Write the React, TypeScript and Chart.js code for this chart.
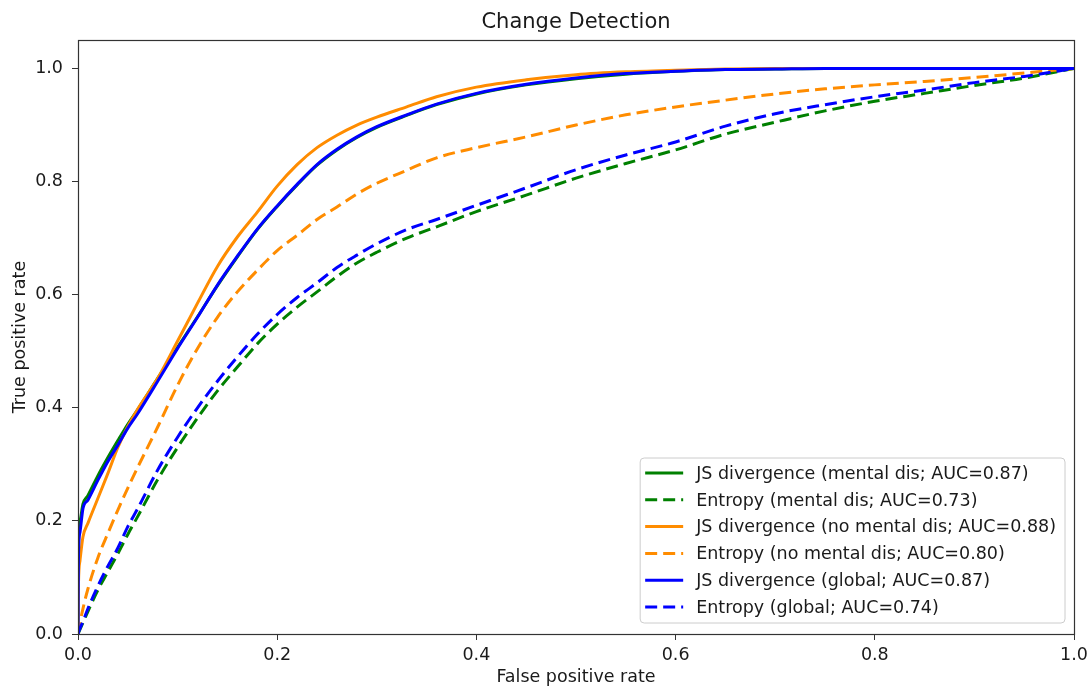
import React, { useEffect, useRef } from "react";
import { Chart, registerables } from "chart.js";

Chart.register(...registerables);

// False positive rate grid (shared by every curve)
const FPR = [0, 0.0005, 0.002, 0.005, 0.01, 0.02, 0.03, 0.04, 0.05, 0.06, 0.08, 0.1, 0.12, 0.14, 0.16, 0.18, 0.2, 0.22, 0.24, 0.26, 0.28, 0.3, 0.33, 0.36, 0.4, 0.45, 0.5, 0.55, 0.6, 0.65, 0.7, 0.75, 0.8, 0.85, 0.9, 0.95, 1.0];

// True positive rates
const JS_MENTAL = [0, 0.17, 0.2, 0.23, 0.245, 0.28, 0.312, 0.342, 0.371, 0.397, 0.452, 0.507, 0.561, 0.616, 0.667, 0.715, 0.756, 0.794, 0.829, 0.856, 0.878, 0.896, 0.917, 0.936, 0.955, 0.971, 0.982, 0.99, 0.995, 0.998, 0.999, 1, 1, 1, 1, 1, 1];
const ENT_MENTAL = [0, 0.002, 0.008, 0.02, 0.04, 0.078, 0.11, 0.142, 0.176, 0.208, 0.273, 0.33, 0.382, 0.43, 0.472, 0.513, 0.548, 0.578, 0.605, 0.632, 0.656, 0.675, 0.7, 0.72, 0.747, 0.776, 0.806, 0.832, 0.856, 0.884, 0.905, 0.925, 0.942, 0.956, 0.97, 0.983, 1];
const JS_NO_MENTAL = [0, 0.09, 0.13, 0.172, 0.196, 0.24, 0.284, 0.33, 0.367, 0.398, 0.452, 0.518, 0.585, 0.65, 0.702, 0.746, 0.792, 0.83, 0.86, 0.882, 0.9, 0.914, 0.932, 0.95, 0.967, 0.98, 0.989, 0.994, 0.997, 0.999, 1, 1, 1, 1, 1, 1, 1];
const ENT_NO_MENTAL = [0, 0.005, 0.02, 0.045, 0.08, 0.135, 0.178, 0.219, 0.258, 0.295, 0.366, 0.44, 0.505, 0.56, 0.605, 0.643, 0.678, 0.705, 0.733, 0.755, 0.778, 0.797, 0.82, 0.842, 0.86, 0.879, 0.9, 0.918, 0.932, 0.944, 0.955, 0.964, 0.971, 0.977, 0.984, 0.992, 1];
const JS_GLOBAL = [0, 0.14, 0.18, 0.222, 0.237, 0.272, 0.305, 0.334, 0.364, 0.39, 0.447, 0.505, 0.56, 0.617, 0.668, 0.716, 0.757, 0.795, 0.83, 0.857, 0.879, 0.897, 0.918, 0.937, 0.956, 0.972, 0.983, 0.991, 0.995, 0.998, 0.999, 1, 1, 1, 1, 1, 1];
const ENT_GLOBAL = [0, 0.003, 0.01, 0.022, 0.045, 0.085, 0.12, 0.152, 0.19, 0.222, 0.29, 0.348, 0.4, 0.447, 0.49, 0.53, 0.565, 0.595, 0.621, 0.648, 0.67, 0.69, 0.715, 0.733, 0.758, 0.789, 0.821, 0.847, 0.87, 0.898, 0.92, 0.936, 0.95, 0.962, 0.975, 0.986, 1];

const LABELS = [
  "JS divergence (mental dis; AUC=0.87)",
  "Entropy (mental dis; AUC=0.73)",
  "JS divergence (no mental dis; AUC=0.88)",
  "Entropy (no mental dis; AUC=0.80)",
  "JS divergence (global; AUC=0.87)",
  "Entropy (global; AUC=0.74)",
];
const SERIES = [JS_MENTAL, ENT_MENTAL, JS_NO_MENTAL, ENT_NO_MENTAL, JS_GLOBAL, ENT_GLOBAL];

const X_TICKS = [0, 0.2, 0.4, 0.6, 0.8, 1.0];
const Y_TICKS = [0, 0.2, 0.4, 0.6, 0.8, 1.0];

const TITLE = "Change Detection";
const X_TITLE = "False positive rate";
const Y_TITLE = "True positive rate";

// styles
const COLORS = ["#008000", "#008000", "#ff8c00", "#ff8c00", "#0000ff", "#0000ff"];
const DASHED = [false, true, false, true, false, true];
const FONT = "'DejaVu Sans', sans-serif";
const TEXT = "#1a1a1a";
const LINE_W = 3;
const DASH = [12, 6];
const FS = 17.5;

const framePlugin = {
  id: "frame",
  afterDatasetsDraw(chart: any) {
    const { ctx, chartArea: a } = chart;
    ctx.save();
    ctx.strokeStyle = "#333";
    ctx.lineWidth = 1.2;
    ctx.strokeRect(Math.round(a.left) + 0.5, Math.round(a.top) + 0.5, Math.round(a.right - a.left), Math.round(a.bottom - a.top));
    ctx.restore();
  },
};

const legendPlugin = {
  id: "innerLegend",
  afterDraw(chart: any) {
    const { ctx, chartArea: a } = chart;
    ctx.save();
    ctx.font = `${FS}px ${FONT}`;
    let maxW = 0;
    LABELS.forEach((l) => (maxW = Math.max(maxW, ctx.measureText(l).width)));
    const padL = 5, handle = 38, gap = 13, padR = 9;
    const rowH = 26.8, padT = 15, padB = 16;
    const w = padL + handle + gap + maxW + padR;
    const h = padT + rowH * (LABELS.length - 1) + padB;
    const right = a.right - 9;
    const bottom = a.bottom - 11;
    const x0 = right - w;
    const y0 = bottom - h;
    const r = 4;
    ctx.beginPath();
    ctx.moveTo(x0 + r, y0);
    ctx.lineTo(x0 + w - r, y0);
    ctx.quadraticCurveTo(x0 + w, y0, x0 + w, y0 + r);
    ctx.lineTo(x0 + w, y0 + h - r);
    ctx.quadraticCurveTo(x0 + w, y0 + h, x0 + w - r, y0 + h);
    ctx.lineTo(x0 + r, y0 + h);
    ctx.quadraticCurveTo(x0, y0 + h, x0, y0 + h - r);
    ctx.lineTo(x0, y0 + r);
    ctx.quadraticCurveTo(x0, y0, x0 + r, y0);
    ctx.closePath();
    ctx.fillStyle = "rgba(255,255,255,0.8)";
    ctx.fill();
    ctx.strokeStyle = "#cccccc";
    ctx.lineWidth = 1;
    ctx.stroke();
    LABELS.forEach((label, i) => {
      const y = y0 + padT + i * rowH;
      ctx.beginPath();
      ctx.strokeStyle = COLORS[i];
      ctx.lineWidth = LINE_W;
      ctx.setLineDash(DASHED[i] ? DASH : []);
      ctx.moveTo(x0 + padL, y);
      ctx.lineTo(x0 + padL + handle, y);
      ctx.stroke();
      ctx.setLineDash([]);
      ctx.fillStyle = TEXT;
      ctx.textBaseline = "middle";
      ctx.textAlign = "left";
      ctx.fillText(label, x0 + padL + handle + gap, y + 1.2);
    });
    ctx.restore();
  },
};

export default function App() {
  const ref = useRef<HTMLCanvasElement | null>(null);

  useEffect(() => {
    if (!ref.current) return;
    const datasets = SERIES.map((vals, i) => ({
      label: LABELS[i],
      data: FPR.map((f, j) => ({ x: f, y: vals[j] })),
      borderColor: COLORS[i],
      backgroundColor: COLORS[i],
      borderWidth: LINE_W,
      borderDash: DASHED[i] ? DASH : [],
      pointRadius: 0,
      fill: false,
      cubicInterpolationMode: "monotone" as const,
      order: SERIES.length - i,
    }));
    const chart = new Chart(ref.current, {
      type: "line",
      data: { datasets },
      plugins: [framePlugin, legendPlugin],
      options: {
        animation: false,
        responsive: true,
        maintainAspectRatio: false,
        devicePixelRatio: 1,
        layout: { padding: { left: 0, right: 15, top: 0, bottom: 0 } },
        plugins: {
          legend: { display: false },
          tooltip: { enabled: false },
          title: {
            display: true,
            text: TITLE,
            color: TEXT,
            fullSize: false,
            font: { family: FONT, size: 21, weight: "normal" },
            padding: { top: 10, bottom: 5 },
          },
        },
        scales: {
          x: {
            type: "linear",
            min: 0,
            max: 1,
            afterFit(scale: any) {
              scale.height = 56;
              scale.paddingLeft = 0;
              scale.paddingRight = 0;
            },
            afterBuildTicks(scale: any) {
              scale.ticks = X_TICKS.map((v) => ({ value: v }));
            },
            ticks: {
              color: TEXT,
              font: { family: FONT, size: FS },
              padding: 5,
              maxRotation: 0,
              callback: (v: any) => Number(v).toFixed(1),
            },
            grid: { display: true, drawOnChartArea: false, drawTicks: true, tickLength: 6, color: "#333", lineWidth: 1 },
            border: { display: false },
            title: {
              display: true,
              text: X_TITLE,
              color: TEXT,
              font: { family: FONT, size: FS },
              padding: { top: 0, bottom: 2 },
            },
          },
          y: {
            type: "linear",
            min: 0,
            max: 1.05,
            afterFit(scale: any) {
              scale.width = 78;
              scale.paddingTop = 0;
              scale.paddingBottom = 0;
            },
            afterBuildTicks(scale: any) {
              scale.ticks = Y_TICKS.map((v) => ({ value: v }));
            },
            ticks: {
              color: TEXT,
              font: { family: FONT, size: FS },
              padding: 9,
              callback: (v: any) => Number(v).toFixed(1),
            },
            grid: { display: true, drawOnChartArea: false, drawTicks: true, tickLength: 6, color: "#333", lineWidth: 1 },
            border: { display: false },
            title: {
              display: true,
              text: Y_TITLE,
              color: TEXT,
              font: { family: FONT, size: FS },
              padding: { top: 10, bottom: 0 },
            },
          },
        },
      },
    });
    return () => chart.destroy();
  }, []);

  return (
    <div style={{ position: "fixed", left: 0, top: 0, width: 1089, height: 690, background: "#fff" }}>
      <canvas ref={ref} />
    </div>
  );
}
